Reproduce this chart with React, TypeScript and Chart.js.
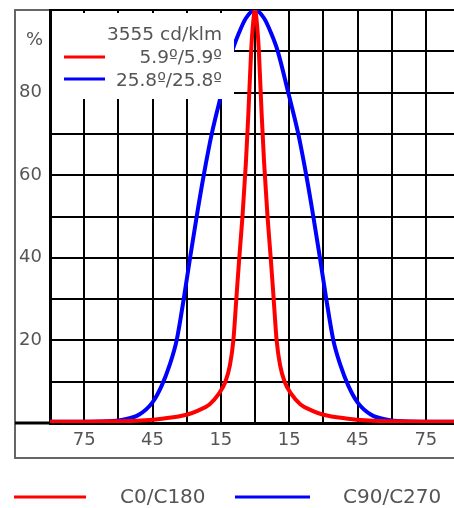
import { useEffect, useRef } from 'react';
import { Chart, registerables } from 'chart.js';

Chart.register(...registerables);

// Angles (degrees) and relative intensity (%)
const redAngles = [-90, -75, -60, -50, -40, -30, -25, -20, -16, -13, -11, -9.5, -8.2, -6.9, -5.5, -4, -2.9, -1.7, -0.8, 0, 0.8, 1.7, 2.9, 4, 5.5, 6.9, 8.2, 9.5, 11, 13, 16, 20, 25, 30, 40, 50, 60, 75, 90];
const redValues = [0.3, 0.3, 0.4, 0.6, 1.1, 2, 3, 4.5, 7, 10, 14, 20, 30, 40, 50, 63, 75, 90, 97, 100, 97, 90, 75, 63, 50, 40, 30, 20, 14, 10, 7, 4.5, 3, 2, 1.1, 0.6, 0.4, 0.3, 0.3];

const blueAngles = [-90, -75, -65, -58, -51, -45, -41, -37.5, -34.4, -31.3, -28.5, -25.6, -22.5, -19, -14.6, -10, -7, -4, 0, 4, 7, 10, 14.6, 19, 22.5, 25.6, 28.5, 31.3, 34.4, 37.5, 41, 45, 51, 58, 65, 75, 90];
const blueValues = [0.3, 0.3, 0.4, 0.8, 2, 5, 9, 14, 20, 30, 40, 50, 60, 70, 80, 90, 94.5, 98, 100, 98, 94.5, 90, 80, 70, 60, 50, 40, 30, 20, 14, 9, 5, 2, 0.8, 0.4, 0.3, 0.3];

const xLabelAngles = [-75, -45, -15, 15, 45, 75];
const yLabelValues = [20, 40, 60, 80];
const yUnit = '%';
const fluxText = '3555 cd/klm';
const redBeam = '5.9º/5.9º';
const blueBeam = '25.8º/25.8º';
const seriesNames = ['C0/C180', 'C90/C270'];
const seriesColors = ['#ff0000', '#0000ff'];

const FONT = '"DejaVu Sans", Verdana, sans-serif';
const TEXT = '#555';

const decor = {
  id: 'decor',
  beforeDraw(chart: any) {
    const ctx = chart.ctx;
    ctx.save();
    ctx.strokeStyle = '#666';
    ctx.lineWidth = 2;
    ctx.strokeRect(15, 10, 480, 448);
    ctx.restore();
  },
  afterDraw(chart: any) {
    const { ctx, chartArea, scales } = chart;
    const y0 = scales.y.getPixelForValue(0);
    ctx.save();
    // axis extension to the frame
    ctx.strokeStyle = '#000';
    ctx.lineWidth = 3;
    ctx.beginPath();
    ctx.moveTo(15, y0);
    ctx.lineTo(chartArea.left, y0);
    ctx.stroke();

    // unit label
    ctx.fillStyle = TEXT;
    ctx.font = `18px ${FONT}`;
    ctx.textAlign = 'right';
    ctx.textBaseline = 'middle';
    ctx.fillText(yUnit, 43, 40);

    // inner legend box
    ctx.fillStyle = '#fff';
    ctx.fillRect(chartArea.left + 2, chartArea.top + 3, 182, 86);
    ctx.fillStyle = TEXT;
    ctx.font = `18.5px ${FONT}`;
    ctx.textAlign = 'right';
    ctx.fillText(fluxText, 222, 35);
    ctx.fillText(redBeam, 222, 58);
    ctx.fillText(blueBeam, 222, 81);
    ctx.lineWidth = 3;
    ctx.strokeStyle = seriesColors[0];
    ctx.beginPath();
    ctx.moveTo(64, 57);
    ctx.lineTo(105, 57);
    ctx.stroke();
    ctx.strokeStyle = seriesColors[1];
    ctx.beginPath();
    ctx.moveTo(64, 79);
    ctx.lineTo(105, 79);
    ctx.stroke();

    // bottom legend
    const items = [
      { x1: 14, x2: 86, tx: 120 },
      { x1: 235, x2: 310, tx: 343 },
    ];
    ctx.font = `20px ${FONT}`;
    ctx.textAlign = 'left';
    items.forEach((it, i) => {
      ctx.strokeStyle = seriesColors[i];
      ctx.lineWidth = 3;
      ctx.beginPath();
      ctx.moveTo(it.x1, 497);
      ctx.lineTo(it.x2, 497);
      ctx.stroke();
      ctx.fillStyle = TEXT;
      ctx.fillText(seriesNames[i], it.tx, 498);
    });
    ctx.restore();
  },
};

export default function App() {
  const ref = useRef<HTMLCanvasElement>(null);
  useEffect(() => {
    if (!ref.current) return;
    const chart = new Chart(ref.current, {
      type: 'line',
      data: {
        datasets: [
          {
            label: seriesNames[0],
            data: redAngles.map((a, i) => ({ x: a, y: redValues[i] })),
            borderColor: seriesColors[0],
            borderWidth: 4,
            pointRadius: 0,
            cubicInterpolationMode: 'monotone',
          },
          {
            label: seriesNames[1],
            data: blueAngles.map((a, i) => ({ x: a, y: blueValues[i] })),
            borderColor: seriesColors[1],
            borderWidth: 4,
            pointRadius: 0,
            cubicInterpolationMode: 'monotone',
          },
        ],
      },
      options: {
        responsive: false,
        animation: false,
        layout: { padding: { top: 10, left: 0, right: 10, bottom: 48 } },
        plugins: { legend: { display: false }, tooltip: { enabled: false } },
        scales: {
          x: {
            type: 'linear',
            min: -90,
            max: 90,
            afterFit: (s: any) => { s.height = 37; s.paddingLeft = 0; s.paddingRight = 0; },
            ticks: {
              stepSize: 15,
              autoSkip: false,
              maxRotation: 0,
              padding: 7,
              color: TEXT,
              font: { family: FONT, size: 18 },
              callback: (v: any) => (xLabelAngles.includes(Number(v)) ? String(Math.abs(Number(v))) : ''),
            },
            grid: { color: '#000', lineWidth: 2, drawTicks: false },
            border: { color: '#000', width: 3 },
          },
          y: {
            min: 0,
            max: 100,
            afterFit: (s: any) => { s.width = 50; s.paddingTop = 0; s.paddingBottom = 0; },
            ticks: {
              stepSize: 10,
              padding: 8,
              color: TEXT,
              font: { family: FONT, size: 18 },
              callback: (v: any) => (yLabelValues.includes(Number(v)) ? String(v) : ''),
            },
            grid: { color: '#000', lineWidth: 2, drawTicks: false },
            border: { color: '#000', width: 3 },
          },
        },
      },
      plugins: [decor],
    } as any);
    return () => chart.destroy();
  }, []);

  return (
    <div style={{ position: 'fixed', left: 0, top: 0, width: 454, height: 508, overflow: 'hidden', background: '#fff' }}>
      <canvas ref={ref} width={470} height={508} style={{ position: 'absolute', left: 0, top: 0, width: 470, height: 508 }} />
    </div>
  );
}
